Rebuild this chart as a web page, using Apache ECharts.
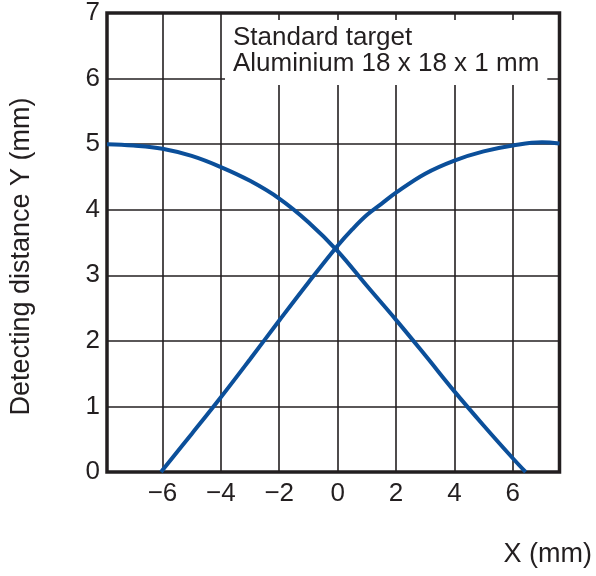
<!DOCTYPE html>
<html>
<head>
<meta charset="utf-8">
<script src="https://cdn.jsdelivr.net/npm/echarts@6/dist/echarts.min.js"></script>
<style>
  html, body { margin: 0; padding: 0; background: #ffffff; }
  #chart { width: 596px; height: 576px; }
</style>
</head>
<body>
<div id="chart"></div>
<script>
// ---- data ----
const risingCurveX = [-6.05, -5, -4, -3, -2, -1, 0, 0.5, 1, 1.5, 2, 3, 4, 5, 6, 7, 7.6];
const risingCurveY = [0, 0.58, 1.14, 1.72, 2.31, 2.89, 3.45, 3.7, 3.92, 4.09, 4.26, 4.55, 4.75, 4.89, 4.98, 5.03, 5.01];

const fallingCurveX = [-7.9, -7, -6, -5, -4, -3, -2, -1, 0, 1, 2, 3, 4, 5, 6, 6.44];
const fallingCurveY = [5.0, 4.98, 4.93, 4.82, 4.65, 4.44, 4.17, 3.81, 3.37, 2.84, 2.32, 1.78, 1.23, 0.71, 0.21, 0];

const xRange = [-7.9, 7.6];
const yRange = [0, 7];

const annotationLines = ['Standard target', 'Aluminium 18 x 18 x 1 mm'];
const xAxisName = 'X (mm)';
const yAxisName = 'Detecting distance Y (mm)';

// ---- build ----
const toPairs = (xs, ys) => xs.map((x, i) => [x, ys[i]]);
const ink = '#231f20';
const curveColor = '#0b4f9a';
const font = 'Liberation Sans, Arial, Helvetica, sans-serif';

const chart = echarts.init(document.getElementById('chart'), null, { renderer: 'canvas' });

chart.setOption({
  animation: false,
  backgroundColor: '#ffffff',
  title: [
    {
      text: annotationLines.join('\n'),
      left: 225,
      top: 20,
      padding: [5, 8, 8, 8],
      backgroundColor: '#ffffff',
      textStyle: { fontSize: 26, fontWeight: 'normal', color: ink, lineHeight: 26, fontFamily: font }
    },
    {
      text: xAxisName,
      right: 4,
      top: 541,
      padding: 0,
      textStyle: { fontSize: 27, fontWeight: 'normal', color: ink, fontFamily: font }
    }
  ],
  grid: {
    left: 100.5,
    right: 36.5,
    top: 12,
    bottom: 104,
    show: true,
    borderWidth: 3.5,
    borderColor: ink,
    backgroundColor: 'transparent'
  },
  xAxis: {
    type: 'value',
    min: xRange[0],
    max: xRange[1],
    splitNumber: 8,
    axisLine: { show: false },
    axisTick: { show: false },
    splitLine: { show: true, lineStyle: { color: ink, width: 1.6 } },
    axisLabel: {
      show: true,
      margin: 9,
      showMinLabel: false,
      showMaxLabel: false,
      color: ink,
      fontSize: 26,
      fontFamily: font,
      formatter: v => (v < 0 ? '\u2212' + Math.abs(v) : String(v))
    }
  },
  yAxis: {
    type: 'value',
    min: yRange[0],
    max: yRange[1],
    interval: 1,
    name: yAxisName,
    nameLocation: 'middle',
    nameGap: 72,
    nameTextStyle: { fontSize: 27, color: ink, fontFamily: font, padding: [0, 28, 0, 0] },
    axisLine: { show: false },
    axisTick: { show: false },
    splitLine: { show: true, lineStyle: { color: ink, width: 1.6 } },
    axisLabel: { margin: 7, color: ink, fontSize: 26, fontFamily: font }
  },
  series: [
    {
      name: 'Rising curve',
      type: 'line',
      data: toPairs(risingCurveX, risingCurveY),
      smooth: 0.4,
      symbol: 'none',
      clip: true,
      lineStyle: { color: curveColor, width: 4 },
      z: 3
    },
    {
      name: 'Falling curve',
      type: 'line',
      data: toPairs(fallingCurveX, fallingCurveY),
      smooth: 0.4,
      symbol: 'none',
      clip: true,
      lineStyle: { color: curveColor, width: 4 },
      z: 3
    }
  ]
});
</script>
</body>
</html>
